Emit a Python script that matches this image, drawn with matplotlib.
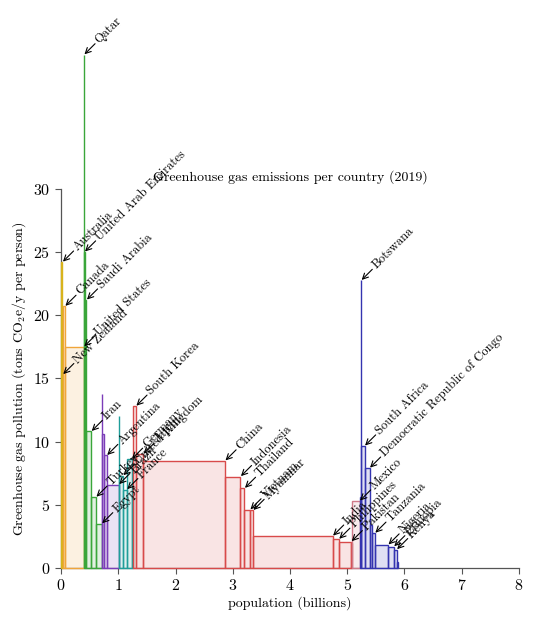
import numpy as np
import matplotlib
matplotlib.use("Agg")
import matplotlib.pyplot as plt

# bars in drawing order, left to right; "" means the bar has no label
countries = [
    "Australia", "New Zealand",
    "Canada", "United States",
    "Qatar", "United Arab Emirates", "Saudi Arabia", "Iran", "Turkey", "Egypt",
    "", "", "Argentina", "Brazil",
    "", "United Kingdom", "France", "Germany", "",
    "South Korea", "Japan", "China", "Indonesia", "Thailand", "Vietnam", "Myanmar",
    "India", "Philippines", "Pakistan", "",
    "Mexico",
    "", "Botswana", "South Africa", "Democratic Republic of Congo", "", "Tanzania",
    "Nigeria", "Ethiopia", "Kenya", "",
]
regions = [
    "Oceania", "Oceania",
    "North America", "North America",
    "Middle East", "Middle East", "Middle East", "Middle East", "Middle East", "Middle East",
    "South America", "South America", "South America", "South America",
    "Europe", "Europe", "Europe", "Europe", "Europe",
    "Asia", "Asia", "Asia", "Asia", "Asia", "Asia", "Asia",
    "Asia", "Asia", "Asia", "Asia",
    "Central America",
    "Africa", "Africa", "Africa", "Africa", "Africa", "Africa",
    "Africa", "Africa", "Africa", "Africa",
]
# population in billions
population = [
    0.025, 0.005,
    0.038, 0.330,
    0.0028, 0.0098, 0.034, 0.083, 0.083, 0.100,
    0.008, 0.035, 0.045, 0.210,
    0.006, 0.067, 0.067, 0.083, 0.025,
    0.052, 0.126, 1.430, 0.270, 0.070, 0.096, 0.054,
    1.390, 0.108, 0.217, 0.020,
    0.127,
    0.025, 0.0023, 0.059, 0.087, 0.035, 0.058,
    0.230, 0.100, 0.050, 0.020,
]
# tons CO2e per person per year
emissions = [
    24.2, 15.3,
    20.7, 17.5,
    40.6, 25.0, 21.2, 10.8, 5.6, 3.5,
    13.75, 10.6, 8.9, 6.6,
    12.0, 7.3, 6.2, 8.6, 5.8,
    12.8, 9.0, 8.47, 7.23, 6.3, 4.6, 4.55,
    2.52, 2.27, 2.08, 2.0,
    5.3,
    5.6, 22.75, 9.65, 7.9, 3.4, 2.75,
    1.82, 1.68, 1.45, 0.5,
]

REGION_COLORS = {
    "Oceania": "#d8b31c",
    "North America": "#f0a53a",
    "Middle East": "#3aa63a",
    "South America": "#7b3db8",
    "Europe": "#1f9e9a",
    "Asia": "#d84a4a",
    "Central America": "#d07a8a",
    "Africa": "#3434b0",
}

plt.rcParams["font.family"] = ["cmr10", "DejaVu Serif"]
plt.rcParams["mathtext.fontset"] = "cm"
plt.rcParams["axes.unicode_minus"] = False
plt.rcParams["axes.formatter.use_mathtext"] = True

fig = plt.figure(figsize=(5.4, 6.19), dpi=100)
ax = fig.add_axes([0.113, 0.0824, 0.848, 0.6126])

pop = np.array(population)
vals = np.array(emissions)
lefts = np.concatenate([[0.0], np.cumsum(pop)[:-1]])
rights = lefts + pop
edge_colors = [REGION_COLORS[r] for r in regions]

bars = ax.bar(lefts, vals, width=pop, align="edge", color=edge_colors,
              alpha=0.15, linewidth=0, zorder=2)
outlines = ax.bar(lefts, vals, width=pop, align="edge", fill=False,
                  edgecolor=edge_colors, linewidth=1.0, zorder=3)
for patch in list(bars) + list(outlines):
    patch.set_clip_on(False)

for name, x1, h in zip(countries, rights, vals):
    if not name:
        continue
    ax.annotate("", xy=(x1, h), xytext=(8, 8), textcoords="offset points",
                arrowprops=dict(arrowstyle="->", color="black", lw=0.8,
                                shrinkA=0, shrinkB=0.5),
                annotation_clip=False, zorder=5)
    ax.annotate(name, xy=(x1, h), xytext=(9.5, 9.5), textcoords="offset points",
                rotation=45, rotation_mode="anchor", ha="left", va="center",
                fontsize=9, annotation_clip=False, zorder=5)

ax.set_xlim(0, 8)
ax.set_ylim(0, 30)
ax.set_xticks(range(0, 9))
ax.set_yticks(range(0, 31, 5))
ax.tick_params(labelsize=11.5, length=4, color="#555555")
for side in ("top", "right"):
    ax.spines[side].set_visible(False)
for side in ("left", "bottom"):
    ax.spines[side].set_color("#555555")
    ax.spines[side].set_linewidth(0.9)

ax.set_title("Greenhouse gas emissions per country (2019)", fontsize=10, pad=6)
ax.set_xlabel("population (billions)", fontsize=10, labelpad=2)
ax.set_ylabel("Greenhouse gas pollution (tons CO$_2$e/y per person)", fontsize=10)

fig.savefig("out.png", dpi=100)
